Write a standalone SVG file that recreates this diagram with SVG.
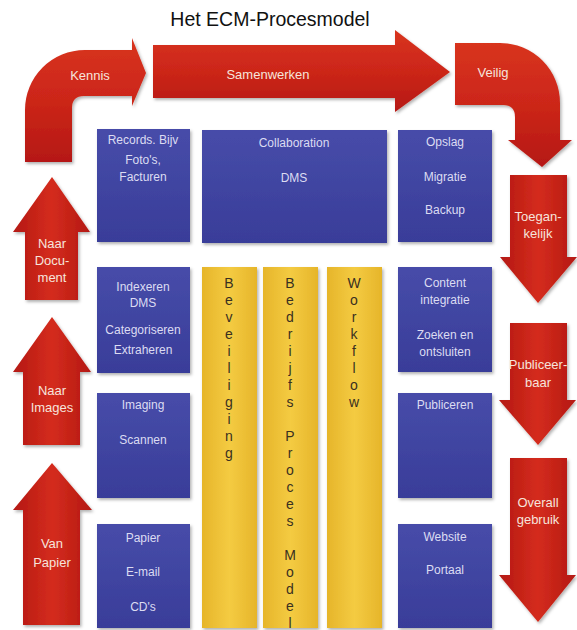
<svg xmlns="http://www.w3.org/2000/svg" width="577" height="630" viewBox="0 0 577 630">
<defs>
<linearGradient id="redV" x1="0" y1="0" x2="0" y2="1"><stop offset="0" stop-color="#d8341f"/><stop offset="0.5" stop-color="#cc2619"/><stop offset="1" stop-color="#b51812"/></linearGradient>
<linearGradient id="redH" x1="0" y1="0" x2="1" y2="0"><stop offset="0" stop-color="#b41812"/><stop offset="0.5" stop-color="#d42c1d"/><stop offset="1" stop-color="#b41812"/></linearGradient>
<linearGradient id="blue" x1="0" y1="0" x2="0" y2="1"><stop offset="0" stop-color="#474ca9"/><stop offset="1" stop-color="#393d99"/></linearGradient>
<linearGradient id="yel" x1="0" y1="0" x2="1" y2="0"><stop offset="0" stop-color="#e6b52a"/><stop offset="0.5" stop-color="#f4cb42"/><stop offset="1" stop-color="#e6b52a"/></linearGradient>
<filter id="sh" x="-10%" y="-10%" width="130%" height="130%"><feDropShadow dx="1.5" dy="2" stdDeviation="1.5" flood-color="#000" flood-opacity="0.3"/></filter>
</defs>
<style>
.rv{fill:url(#redV);filter:url(#sh)}
.rh{fill:url(#redH);filter:url(#sh)}
.bx{fill:url(#blue);filter:url(#sh)}
.yc{fill:url(#yel);filter:url(#sh)}
.rt{font-family:"Liberation Sans",Arial,sans-serif;font-size:13px;fill:#f6e4dc;text-anchor:middle}
.bt{font-family:"Liberation Sans",Arial,sans-serif;font-size:12px;fill:#dcdcf2;text-anchor:middle}
.yt{font-family:"Liberation Sans",Arial,sans-serif;font-size:14px;fill:#3a3020;text-anchor:middle}
.title{font-family:"Liberation Sans",Arial,sans-serif;font-size:19.5px;fill:#111;text-anchor:middle}
</style>
<rect width="577" height="630" fill="#fff"/>
<text class="title" x="270" y="26">Het ECM-Procesmodel</text>

<g id="connectors">
<g id="kennis"><path class="rv" d="M25,162 L25,110 A60,60 0 0 1 85,50 L132,50 L132,38 L146,73 L132,106 L132,96 L84,96 Q72,96 72,108 L72,162 Z"/><text class="rt" x="90" y="80" font-size="14">Kennis</text></g>
<g id="samenwerken"><path class="rv" d="M153,45 L395,45 L395,30 L450,72 L395,112 L395,98 L153,98 Z"/><text class="rt" x="268" y="79" font-size="14">Samenwerken</text></g>
<g id="veilig"><path class="rv" d="M455,43 L500,43 A60,60 0 0 1 560,103 L560,140 L572,140 L542,167 L508,140 L515,140 L515,117 Q515,105 503,105 L455,105 Z"/><text class="rt" x="493" y="77" font-size="14">Veilig</text></g>
<g id="naar-document"><path class="rh" d="M52,177 L90,232 L78,232 L78,300 L25,300 L25,232 L13,232 Z"/><text class="rt" x="52" y="248">Naar</text><text class="rt" x="52" y="265" font-size="12">Docu-</text><text class="rt" x="52" y="282" font-size="12">ment</text></g>
<g id="naar-images"><path class="rh" d="M52,317 L91,372 L80,372 L80,445 L23,445 L23,372 L13,372 Z"/><text class="rt" x="52" y="395">Naar</text><text class="rt" x="52" y="412">Images</text></g>
<g id="van-papier"><path class="rh" d="M52,463 L92,510 L80,510 L80,625 L23,625 L23,510 L13,510 Z"/><text class="rt" x="52" y="548">Van</text><text class="rt" x="52" y="567">Papier</text></g>
<g id="toegankelijk"><path class="rh" d="M510,175 L567,175 L567,257 L577,257 L538,303 L500,257 L510,257 Z"/><text class="rt" x="538" y="221" font-size="12">Toegan-</text><text class="rt" x="538" y="238" font-size="12">kelijk</text></g>
<g id="publiceerbaar"><path class="rh" d="M510,323 L567,323 L567,400 L576,400 L538,445 L499,400 L510,400 Z"/><text class="rt" x="538" y="369" font-size="12">Publiceer-</text><text class="rt" x="538" y="387" font-size="12">baar</text></g>
<g id="overall"><path class="rh" d="M510,458 L567,458 L567,575 L576,575 L538,622 L499,575 L510,575 Z"/><text class="rt" x="538" y="507" font-size="12">Overall</text><text class="rt" x="538" y="524" font-size="12">gebruik</text></g>
</g>

<g id="records"><rect class="bx" x="97" y="129" width="93" height="113"/><text class="bt" x="143" y="144">Records. Bijv</text><text class="bt" x="143" y="164">Foto's,</text><text class="bt" x="143" y="181">Facturen</text></g>
<g id="indexeren"><rect class="bx" x="97" y="267" width="93" height="106"/><text class="bt" x="143" y="291">Indexeren</text><text class="bt" x="143" y="307">DMS</text><text class="bt" x="143" y="334">Categoriseren</text><text class="bt" x="143" y="354">Extraheren</text></g>
<g id="imaging"><rect class="bx" x="97" y="393" width="93" height="105"/><text class="bt" x="143" y="409">Imaging</text><text class="bt" x="143" y="444">Scannen</text></g>
<g id="papier"><rect class="bx" x="97" y="524" width="93" height="104"/><text class="bt" x="143" y="542">Papier</text><text class="bt" x="143" y="576">E-mail</text><text class="bt" x="143" y="611">CD's</text></g>

<g id="collaboration"><rect class="bx" x="202" y="130" width="185" height="113"/><text class="bt" x="294" y="147">Collaboration</text><text class="bt" x="294" y="182">DMS</text></g>

<g id="opslag"><rect class="bx" x="398" y="130" width="94" height="112"/><text class="bt" x="445" y="146">Opslag</text><text class="bt" x="445" y="181">Migratie</text><text class="bt" x="445" y="214">Backup</text></g>
<g id="content"><rect class="bx" x="398" y="267" width="94" height="105"/><text class="bt" x="445" y="287">Content</text><text class="bt" x="445" y="304">integratie</text><text class="bt" x="445" y="339">Zoeken en</text><text class="bt" x="445" y="356">ontsluiten</text></g>
<g id="publiceren"><rect class="bx" x="398" y="393" width="94" height="105"/><text class="bt" x="445" y="409">Publiceren</text></g>
<g id="website"><rect class="bx" x="398" y="524" width="94" height="104"/><text class="bt" x="445" y="541">Website</text><text class="bt" x="445" y="574">Portaal</text></g>

<g id="beveiliging"><rect class="yc" x="202" y="267" width="55" height="361"/>
<text class="yt" x="229" y="288">B</text><text class="yt" x="229" y="305">e</text><text class="yt" x="229" y="322">v</text><text class="yt" x="229" y="339">e</text><text class="yt" x="229" y="356">i</text><text class="yt" x="229" y="373">l</text><text class="yt" x="229" y="390">i</text><text class="yt" x="229" y="407">g</text><text class="yt" x="229" y="424">i</text><text class="yt" x="229" y="441">n</text><text class="yt" x="229" y="458">g</text></g>
<g id="bedrijfs"><rect class="yc" x="263" y="267" width="55" height="361"/>
<text class="yt" x="290" y="288">B</text><text class="yt" x="290" y="305">e</text><text class="yt" x="290" y="322">d</text><text class="yt" x="290" y="339">r</text><text class="yt" x="290" y="356">i</text><text class="yt" x="290" y="373">j</text><text class="yt" x="290" y="390">f</text><text class="yt" x="290" y="407">s</text><text class="yt" x="290" y="441">P</text><text class="yt" x="290" y="458">r</text><text class="yt" x="290" y="475">o</text><text class="yt" x="290" y="492">c</text><text class="yt" x="290" y="509">e</text><text class="yt" x="290" y="526">s</text><text class="yt" x="290" y="560">M</text><text class="yt" x="290" y="577">o</text><text class="yt" x="290" y="594">d</text><text class="yt" x="290" y="611">e</text><text class="yt" x="290" y="628">l</text></g>
<g id="workflow"><rect class="yc" x="327" y="267" width="55" height="361"/>
<text class="yt" x="354" y="288">W</text><text class="yt" x="354" y="305">o</text><text class="yt" x="354" y="322">r</text><text class="yt" x="354" y="339">k</text><text class="yt" x="354" y="356">f</text><text class="yt" x="354" y="373">l</text><text class="yt" x="354" y="390">o</text><text class="yt" x="354" y="407">w</text></g>
</svg>
